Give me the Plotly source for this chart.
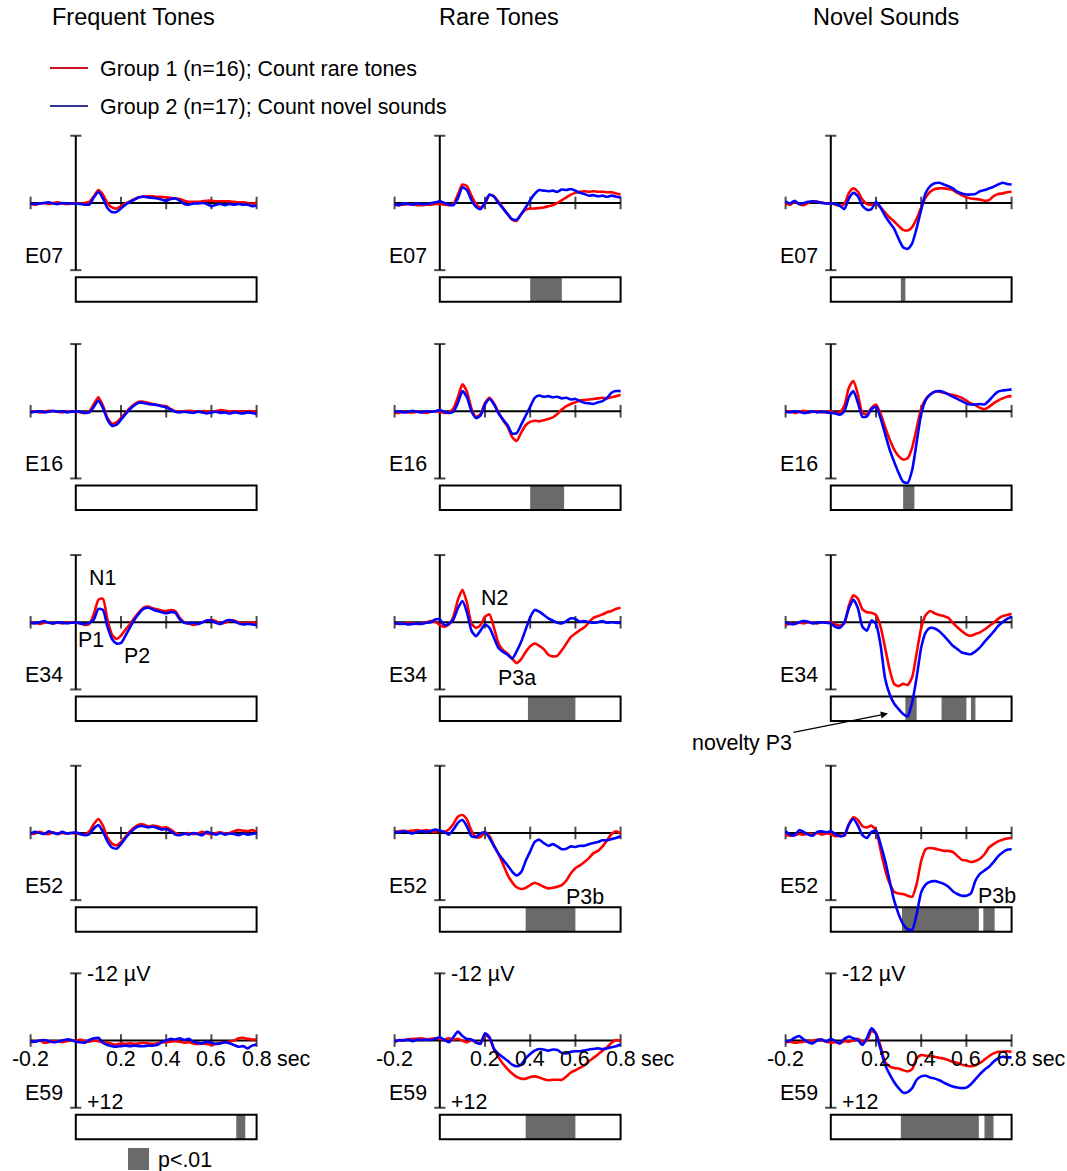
import plotly.graph_objects as go

W, H = 1067, 1171
FONT = "Liberation Sans, Arial, Helvetica, sans-serif"

# ---------------- data ----------------
time_s = [round(-0.2 + 0.02 * i, 2) for i in range(51)]   # sample grid (s)
conditions = ["Frequent Tones", "Rare Tones", "Novel Sounds"]
electrodes = ["E07", "E16", "E34", "E52", "E59"]
x_ticks = [-0.2, 0.2, 0.4, 0.6, 0.8]
x_tick_labels = ["-0.2", "0.2", "0.4", "0.6", "0.8"]
y_limits = [-12, 12]
group_names = ["Group 1 (n=16); Count rare tones", "Group 2 (n=17); Count novel sounds"]

# amplitudes in microvolts (negative up), Group 1 = g1, Group 2 = g2
freq_E07_g1 = [0.2, 0.3, 0.1, 0.0, 0.2, 0.0, -0.1, 0.1, 0.2, 0.1,
               0.0, 0.1, 0.0, -0.2, -1.2, -2.3, -1.5, 0.0, 0.8, 1.0,
               0.6, 0.1, -0.3, -0.7, -1.0, -1.2, -1.2, -1.2, -1.1, -1.1,
               -1.0, -0.9, -0.8, -0.7, -0.4, -0.2, -0.2, -0.2, -0.3, -0.4,
               -0.4, -0.3, -0.3, -0.3, -0.3, -0.2, -0.1, -0.1, 0.0, 0.2, -0.1]
freq_E07_g2 = [0.1, 0.2, 0.1, 0.0, -0.1, 0.1, 0.2, 0.0, 0.1, 0.1,
               0.1, 0.2, 0.3, 0.3, -1.0, -2.0, -0.8, 0.9, 1.6, 1.6,
               1.0, 0.3, -0.2, -0.6, -1.0, -1.1, -1.0, -0.9, -0.8, -0.6,
               -0.4, -0.7, -0.8, -0.4, 0.2, 0.3, 0.1, 0.1, 0.0, 0.2,
               0.6, 0.3, 0.2, 0.4, 0.2, 0.3, 0.2, 0.3, 0.3, 0.6, 0.4]
freq_E16_g1 = [0.1, 0.0, 0.2, 0.1, -0.1, 0.0, 0.1, 0.2, 0.0, 0.1,
               0.0, 0.2, 0.3, 0.0, -1.3, -2.5, -1.0, 1.2, 2.2, 2.0,
               1.2, 0.3, -0.6, -1.3, -1.7, -1.7, -1.5, -1.3, -1.1, -1.0,
               -0.9, -0.4, 0.0, 0.1, 0.0, -0.1, 0.0, 0.1, 0.0, 0.0,
               0.1, 0.0, -0.2, -0.1, 0.0, 0.1, 0.0, 0.1, 0.0, 0.0, 0.1]
freq_E16_g2 = [0.2, 0.1, 0.0, 0.2, 0.1, -0.1, 0.1, 0.0, 0.2, 0.1,
               0.0, 0.1, 0.3, 0.2, -0.8, -1.9, -0.6, 1.5, 2.6, 2.4,
               1.5, 0.5, -0.4, -1.1, -1.5, -1.5, -1.3, -1.2, -1.1, -0.9,
               -0.7, -0.3, 0.1, 0.2, 0.1, 0.2, 0.3, 0.1, 0.2, 0.4,
               0.2, 0.1, 0.3, 0.2, 0.4, 0.2, 0.3, 0.4, 0.2, 0.3, 0.5]
freq_E34_g1 = [0.2, 0.1, 0.3, 0.1, 0.0, 0.2, 0.1, 0.2, 0.0, 0.1,
               0.1, 0.2, 0.5, 0.3, -1.5, -4.0, -4.2, -0.5, 2.2, 3.0,
               2.4, 1.3, 0.3, -0.8, -1.8, -2.6, -2.8, -2.5, -2.3, -2.1,
               -2.0, -2.2, -2.0, -0.8, 0.0, 0.2, 0.5, 0.3, 0.0, -0.3,
               -0.4, -0.2, 0.2, 0.1, -0.3, -0.3, 0.0, 0.2, 0.1, 0.0, 0.3]
freq_E34_g2 = [0.1, 0.2, 0.0, -0.2, 0.1, 0.2, 0.0, 0.1, 0.2, 0.1,
               0.0, 0.2, 0.3, 0.1, -0.5, -2.4, -2.2, 0.8, 3.0, 3.8,
               3.7, 2.4, 0.9, -0.5, -1.6, -2.4, -2.6, -2.3, -2.0, -1.8,
               -1.6, -1.8, -1.7, -0.5, 0.1, 0.2, 0.1, 0.3, 0.0, -0.3,
               -0.3, 0.1, 0.3, -0.2, -0.4, -0.2, 0.2, 0.4, 0.3, 0.4, 0.5]
freq_E52_g1 = [0.2, 0.1, -0.2, 0.1, 0.2, -0.1, 0.2, 0.0, 0.1, 0.0,
               0.1, 0.2, 0.3, -0.3, -1.6, -2.5, -1.3, 0.8, 1.9, 2.2,
               1.6, 0.7, -0.3, -1.0, -1.5, -1.5, -1.2, -1.3, -1.2, -0.9,
               -1.0, -0.6, 0.0, 0.3, 0.2, 0.0, 0.2, 0.1, -0.2, 0.1,
               0.2, 0.0, -0.1, 0.1, 0.0, -0.3, -0.5, -0.4, -0.3, -0.5, -0.2]
freq_E52_g2 = [0.1, -0.2, 0.0, 0.2, -0.3, 0.0, 0.2, -0.2, 0.1, 0.0,
               -0.1, 0.2, 0.4, 0.2, -0.8, -1.4, -0.2, 1.5, 2.6, 2.8,
               2.0, 0.9, 0.0, -0.8, -1.2, -1.2, -1.0, -1.1, -0.9, -0.6,
               -0.7, -0.3, 0.3, 0.4, 0.1, 0.3, 0.0, 0.2, 0.4, -0.2,
               0.1, 0.3, 0.0, 0.3, 0.1, 0.2, 0.4, 0.1, 0.3, 0.2, 0.0]
freq_E59_g1 = [0.3, 0.2, 0.0, 0.4, 0.3, 0.1, 0.2, 0.3, 0.1, 0.0,
               0.1, -0.2, 0.1, 0.2, 0.0, 0.1, 0.3, 0.4, 0.6, 0.7,
               0.5, 0.6, 0.5, 0.6, 0.5, 0.4, 0.5, 0.6, 0.5, 0.3,
               0.3, 0.2, 0.1, 0.2, 0.4, 0.3, 0.5, 0.6, 0.5, 0.6,
               0.8, 0.6, 0.4, 0.3, 0.2, 0.0, -0.4, -0.5, -0.3, -0.2, -0.2]
freq_E59_g2 = [0.1, 0.2, 0.0, -0.1, 0.1, 0.3, 0.2, 0.0, -0.2, -0.1,
               0.2, 0.3, 0.4, -0.1, -0.4, -0.5, 0.4, 0.8, 1.0, 1.1,
               1.0, 0.9, 1.0, 0.9, 1.0, 1.0, 0.9, 0.9, 0.8, 0.3,
               0.0, -0.3, -0.2, -0.4, -0.1, -0.3, 0.2, 0.4, 0.5, 0.2,
               0.4, 0.6, 0.5, 0.3, 0.5, 0.8, 1.1, 1.0, 1.4, 0.9, 0.7]

rare_E07_g1 = [0.3, 0.4, 0.3, 0.2, 0.3, 0.4, 0.4, 0.3, 0.3, 0.2,
               0.2, 0.3, 0.4, 0.2, -1.5, -3.3, -3.0, -1.3, 0.2, 0.8,
               0.0, -1.4, -1.2, -0.2, 0.9, 2.0, 3.0, 3.2, 2.0, 1.2,
               1.0, 1.0, 0.9, 0.8, 0.6, 0.4, 0.0, -0.5, -1.0, -1.5,
               -1.8, -2.0, -2.1, -2.0, -2.1, -2.0, -2.0, -1.9, -1.9, -1.7, -1.5]
rare_E07_g2 = [0.2, 0.4, 0.1, 0.2, 0.3, 0.1, 0.2, 0.2, 0.0, -0.1,
               -0.3, 0.0, 0.3, 0.4, -0.8, -2.8, -2.3, -0.5, 0.7, 1.1,
               0.0, -1.5, -1.1, 0.0, 1.0, 2.0, 2.9, 3.0, 2.0, 0.8,
               -0.5, -1.6, -2.3, -2.2, -2.1, -2.2, -2.0, -2.4, -2.3, -2.5,
               -2.2, -1.8, -1.6, -1.3, -1.4, -1.2, -1.3, -1.1, -1.3, -1.1, -1.0]
rare_E16_g1 = [0.2, 0.3, 0.1, 0.2, 0.2, 0.1, 0.2, 0.3, 0.1, 0.0,
               0.1, 0.3, 0.2, -0.5, -2.5, -4.8, -3.5, -0.5, 1.0, 0.5,
               -1.5, -2.4, -1.4, 0.2, 1.6, 2.8, 4.6, 5.3, 3.8, 2.5,
               1.9, 1.7, 1.8, 1.6, 1.4, 1.1, 0.5, -0.3, -0.9, -1.3,
               -1.6, -1.9, -2.0, -2.1, -2.2, -2.3, -2.4, -2.3, -2.5, -2.7, -2.9]
rare_E16_g2 = [0.2, 0.0, 0.2, 0.1, -0.1, 0.1, 0.2, 0.0, 0.1, 0.0,
               -0.2, 0.1, 0.3, 0.1, -1.5, -3.6, -2.5, 0.0, 1.2, 0.8,
               -1.2, -2.2, -1.2, 0.4, 1.5, 2.5, 4.0, 3.9, 2.4, 0.8,
               -0.8, -2.4, -2.8, -2.6, -2.7, -2.5, -2.6, -2.3, -2.4, -2.1,
               -2.2, -1.8, -1.5, -1.4, -1.3, -1.6, -1.8, -2.4, -3.3, -3.6, -3.6]
rare_E34_g1 = [0.3, 0.2, 0.3, 0.1, 0.2, 0.3, 0.2, 0.0, -0.2, -0.1,
               0.5, 0.8, 0.4, -1.0, -4.0, -5.8, -3.5, 0.2, 1.0, 0.5,
               -1.0, -1.4, 1.0, 3.8, 5.0, 5.6, 6.5, 7.3, 6.6, 5.3,
               4.3, 3.8, 4.2, 4.8, 5.8, 6.1, 6.0, 5.0, 3.8, 2.6,
               2.0, 1.4, 0.9, 0.0, -0.8, -1.1, -1.4, -1.8, -2.0, -2.4, -2.6]
rare_E34_g2 = [0.1, 0.3, 0.2, 0.4, 0.3, 0.2, 0.3, 0.1, 0.0, -0.5,
               -0.5, 0.5, 0.3, -0.5, -2.5, -3.8, -1.8, 1.5, 2.5, 1.5,
               0.4, 1.0, 2.8, 4.6, 5.3, 5.8, 6.5, 5.2, 3.5, 1.3,
               -0.9, -2.2, -1.9, -1.3, -0.7, -0.3, 0.1, 0.2, -0.2, -0.7,
               -0.6, -0.1, -0.2, 0.0, 0.1, 0.0, -0.2, 0.1, 0.0, 0.1, 0.1]
rare_E52_g1 = [-0.2, -0.3, -0.4, -0.3, -0.4, -0.5, -0.4, -0.5, -0.3, -0.2,
               -0.4, -0.2, -0.6, -1.6, -2.9, -3.2, -2.4, -0.4, 0.8, 0.7,
               -0.1, 0.6, 2.2, 3.8, 5.6, 7.5, 8.8, 9.7, 10.0, 9.8,
               9.3, 8.9, 9.2, 9.6, 9.9, 9.8, 9.6, 9.3, 8.5, 7.2,
               6.3, 5.8, 5.2, 4.5, 3.6, 3.2, 2.4, 1.3, 0.2, -0.3, 0.1]
rare_E52_g2 = [-0.2, -0.1, -0.3, -0.1, 0.1, -0.2, -0.3, -0.2, -0.4, -0.6,
               -0.4, -0.2, 0.3, -0.6, -1.8, -2.3, -1.2, 0.6, 0.7, 0.1,
               -0.1, 0.9, 2.4, 3.7, 4.8, 5.8, 6.9, 7.6, 7.0, 5.0,
               3.3, 1.6, 1.2, 1.8, 2.3, 2.0, 2.4, 2.9, 2.8, 2.4,
               2.5, 2.3, 2.3, 2.0, 1.8, 1.6, 1.3, 1.3, 1.1, 0.9, 0.6]
rare_E59_g1 = [0.2, 0.0, -0.1, -0.2, -0.3, -0.3, -0.4, -0.2, -0.3, -0.4,
               -0.3, -0.2, -0.4, -0.2, -0.3, 0.0, 0.3, -0.1, 0.4, 0.4,
               -1.0, -0.4, 1.6, 3.0, 4.2, 5.1, 5.9, 6.5, 6.8, 6.8,
               6.5, 6.4, 6.6, 6.9, 7.1, 7.0, 7.0, 7.0, 6.4, 5.7,
               5.3, 4.9, 4.4, 3.7, 3.1, 2.5, 1.8, 1.2, 0.4, -0.1, 0.1]
rare_E59_g2 = [0.2, -0.1, 0.0, -0.2, 0.1, -0.2, -0.1, -0.2, -0.1, -0.3,
               -0.6, -0.1, 0.3, -0.6, -1.6, -0.8, -0.3, -0.2, 0.3, 0.6,
               -1.3, -0.6, 1.5, 2.4, 3.0, 3.6, 4.3, 4.6, 4.3, 3.2,
               2.4, 1.8, 1.5, 1.6, 1.8, 1.6, 1.7, 2.2, 2.3, 2.0,
               1.9, 1.9, 1.8, 1.6, 1.5, 1.4, 1.5, 1.4, 1.2, 1.0, 0.7]

novel_E07_g1 = [0.1, 0.3, -0.2, 0.2, 0.4, 0.0, -0.3, -0.2, -0.1, 0.1,
                0.0, 0.3, 0.5, 0.2, -1.8, -2.6, -2.0, -0.6, 0.2, 0.3,
                0.1, 0.8, 1.7, 2.6, 3.3, 4.1, 4.8, 4.9, 4.3, 2.8,
                0.8, -1.0, -2.0, -2.5, -2.6, -2.6, -2.5, -2.3, -1.8, -1.4,
                -1.0, -0.8, -0.7, -0.6, -0.4, -0.5, -1.2, -1.6, -1.7, -1.9, -2.0]
novel_E07_g2 = [-0.3, 0.1, -0.4, 0.2, 0.0, -0.2, -0.3, -0.2, 0.0, 0.1,
                0.1, 0.2, 0.5, 1.1, -0.8, -1.8, -1.2, 0.5, 1.2, 1.1,
                -0.2, 0.8, 2.3, 3.5, 4.6, 6.4, 7.9, 8.2, 7.2, 4.5,
                1.2, -1.8, -3.0, -3.5, -3.6, -3.3, -3.0, -2.6, -2.0, -1.7,
                -1.5, -1.5, -1.6, -2.1, -2.3, -2.6, -2.9, -3.3, -3.6, -3.4, -3.3]
novel_E16_g1 = [0.2, 0.0, 0.3, 0.1, -0.1, 0.2, 0.1, 0.0, 0.2, 0.1,
                0.0, 0.3, 0.2, -1.0, -4.2, -5.4, -3.0, 0.3, 0.5, -0.6,
                -1.2, 0.4, 2.8, 5.0, 6.8, 8.0, 8.6, 8.4, 6.5, 3.0,
                -0.5, -2.2, -3.0, -3.5, -3.5, -3.3, -3.1, -2.9, -2.7, -2.4,
                -1.9, -1.4, -1.1, -0.6, -0.4, -0.8, -1.4, -1.9, -2.3, -2.6, -2.7]
novel_E16_g2 = [0.1, 0.2, 0.0, 0.1, 0.3, 0.2, 0.0, 0.2, 0.1, 0.2,
                0.3, 0.4, 0.6, 0.0, -2.5, -3.6, -1.5, 1.0, 0.9, -0.4,
                -0.8, 1.2, 4.0, 6.8, 9.0, 11.0, 12.6, 12.8, 10.5, 5.5,
                0.5, -2.0, -3.0, -3.5, -3.6, -3.4, -3.0, -2.6, -2.2, -1.8,
                -1.4, -1.2, -1.2, -1.3, -1.2, -1.9, -2.8, -3.5, -3.7, -3.8, -3.9]
novel_E34_g1 = [0.5, 0.2, 0.3, 0.1, 0.2, 0.0, 0.1, 0.2, 0.0, 0.1,
                0.0, 0.4, 0.6, 0.2, -3.0, -4.8, -4.2, -2.3, -1.8, -1.7,
                -1.3, 0.8, 4.5, 8.4, 11.0, 11.4, 11.0, 11.2, 9.8, 5.5,
                1.0, -1.3, -2.0, -1.6, -1.3, -1.1, -0.8, 0.1, 0.9, 1.6,
                2.2, 2.4, 2.1, 1.8, 1.3, 0.7, 0.1, -0.6, -1.1, -1.3, -1.5]
novel_E34_g2 = [0.0, 0.3, 0.3, 0.0, -0.2, -0.1, 0.2, 0.1, 0.0, 0.1,
                0.2, 0.8, 1.0, 0.0, -2.5, -4.0, -2.5, 0.8, 1.5, -0.3,
                0.3, 4.0, 10.0, 12.8, 14.5, 15.5, 16.4, 16.8, 14.3, 9.8,
                4.5, 1.8, 1.0, 1.1, 1.6, 2.4, 3.3, 4.2, 4.8, 5.4,
                5.6, 5.7, 5.2, 4.5, 3.5, 2.6, 1.7, 0.7, 0.0, -0.6, -1.0]
novel_E52_g1 = [0.3, 0.5, 0.4, 0.2, 0.3, 0.1, 0.3, 0.0, 0.3, 0.1,
                0.2, 0.6, 0.4, 0.5, -1.6, -2.8, -2.3, -1.2, -1.0, -1.3,
                -0.5, 3.0, 6.5, 9.0, 10.5, 10.8, 10.9, 11.2, 11.4, 9.1,
                5.0, 2.9, 2.7, 2.8, 3.0, 3.2, 3.2, 3.4, 4.1, 4.8,
                4.9, 5.2, 5.0, 4.6, 3.8, 2.6, 2.0, 1.5, 1.2, 1.0, 0.9]
novel_E52_g2 = [-0.3, 0.3, 0.4, -0.5, -0.2, 0.3, 0.5, -0.2, -0.3, -0.1,
                -0.3, 0.2, 0.6, 0.4, -1.5, -2.5, -1.3, 0.4, 0.9, -0.2,
                -0.4, 2.0, 4.9, 8.5, 12.0, 14.5, 16.3, 17.2, 17.3, 14.5,
                10.6, 9.2, 8.7, 8.6, 8.8, 9.1, 9.6, 10.4, 10.9, 11.2,
                11.2, 10.8, 8.5, 7.3, 6.7, 6.1, 5.2, 4.2, 3.5, 3.0, 2.9]
novel_E59_g1 = [0.3, 0.2, 0.4, 0.3, 0.2, 0.0, 0.1, -0.2, 0.0, 0.2,
                0.4, 0.3, 0.5, 0.1, 0.2, 0.0, -0.3, 0.2, 0.0, -1.7,
                -1.3, 1.0, 3.8, 4.6, 4.9, 5.0, 5.3, 5.5, 5.1, 3.2,
                2.6, 2.7, 2.8, 2.9, 3.1, 3.2, 3.5, 3.8, 4.0, 4.3,
                4.5, 4.6, 4.4, 4.0, 3.4, 2.8, 2.3, 2.0, 2.0, 1.9, 2.0]
novel_E59_g2 = [0.2, 0.0, -0.5, -0.8, -0.2, 0.3, 0.5, 0.0, -0.2, 0.2,
                -0.3, 0.1, 0.5, -0.3, -0.7, -0.4, -0.1, 0.8, -0.5, -2.2,
                -1.2, 1.5, 4.3, 6.0, 7.4, 8.5, 9.3, 9.2, 8.5, 7.0,
                6.4, 6.3, 6.6, 6.8, 7.1, 7.5, 7.9, 8.2, 8.4, 8.5,
                8.4, 7.8, 6.9, 6.0, 5.2, 4.6, 3.8, 3.2, 2.9, 3.0, 3.0]

# significant (p<.01) intervals in seconds, per electrode row
sig_frequent = [[], [], [], [], [(0.71, 0.75)]]
sig_rare = [[(0.40, 0.54)], [(0.40, 0.55)], [(0.39, 0.60)], [(0.38, 0.60)], [(0.38, 0.60)]]
sig_novel = [[(0.31, 0.33)], [(0.32, 0.37)],
             [(0.33, 0.38), (0.49, 0.60), (0.62, 0.64)],
             [(0.315, 0.655), (0.675, 0.725)],
             [(0.31, 0.655), (0.68, 0.72)]]

waves = {
    "Frequent Tones": [(freq_E07_g1, freq_E07_g2), (freq_E16_g1, freq_E16_g2), (freq_E34_g1, freq_E34_g2),
                       (freq_E52_g1, freq_E52_g2), (freq_E59_g1, freq_E59_g2)],
    "Rare Tones": [(rare_E07_g1, rare_E07_g2), (rare_E16_g1, rare_E16_g2), (rare_E34_g1, rare_E34_g2),
                   (rare_E52_g1, rare_E52_g2), (rare_E59_g1, rare_E59_g2)],
    "Novel Sounds": [(novel_E07_g1, novel_E07_g2), (novel_E16_g1, novel_E16_g2), (novel_E34_g1, novel_E34_g2),
                     (novel_E52_g1, novel_E52_g2), (novel_E59_g1, novel_E59_g2)],
}
sigs = {"Frequent Tones": sig_frequent, "Rare Tones": sig_rare, "Novel Sounds": sig_novel}

# ---------------- layout geometry (pixels) ----------------
COL_ZERO_PX = [75.8, 439.8, 830.8]
PX_PER_SEC = 226.0
ROW_TOP_PX = [135.7, 344.0, 555.0, 765.7, 973.3]
PX_PER_UV = 5.6
ZERO_OFF = 67.25
BAR_TOP_OFF, BAR_BOT_OFF = 141.5, 166.0
X_LO, X_HI = -0.23, 0.83
RED, BLUE = "#ff0000", "#0000ff"
GRAY = "#6a6a6a"
TXT = 21.4


def uv_at(py, top):
    return (py - top - ZERO_OFF) / PX_PER_UV


fig = go.Figure()
layout_axes = {}
shapes = []
annotations = []

for c, cond in enumerate(conditions):
    z = COL_ZERO_PX[c]
    for r, el in enumerate(electrodes):
        top = ROW_TOP_PX[r]
        k = r * 3 + c + 1
        xn = "x" if k == 1 else f"x{k}"
        yn = "y" if k == 1 else f"y{k}"
        xkey = "xaxis" if k == 1 else f"xaxis{k}"
        ykey = "yaxis" if k == 1 else f"yaxis{k}"
        layout_axes[xkey] = dict(domain=[(z + X_LO * PX_PER_SEC) / W, (z + X_HI * PX_PER_SEC) / W],
                                 range=[X_LO, X_HI], visible=False, anchor=yn, fixedrange=True)
        layout_axes[ykey] = dict(domain=[1 - (top + 172) / H, 1 - (top - 8) / H],
                                 range=[uv_at(top + 172, top), uv_at(top - 8, top)],
                                 visible=False, anchor=xn, fixedrange=True)

        # axes drawn at zero
        fig.add_trace(go.Scatter(x=[0, 0, None, x_ticks[0], x_ticks[-1]],
                                 y=[y_limits[0], y_limits[1], None, 0, 0],
                                 mode="lines", line=dict(color="black", width=2),
                                 xaxis=xn, yaxis=yn, hoverinfo="skip", showlegend=False))
        fig.add_trace(go.Scatter(x=[0, 0] + x_ticks, y=y_limits + [0] * len(x_ticks),
                                 mode="markers", cliponaxis=False,
                                 marker=dict(symbol=["line-ew"] * 2 + ["line-ns"] * len(x_ticks),
                                             size=[8, 8] + [9] * len(x_ticks), color="black",
                                             line=dict(color="black", width=2)),
                                 xaxis=xn, yaxis=yn, hoverinfo="skip", showlegend=False))
        g1, g2 = waves[cond][r]
        for vals, col, name in ((g1, RED, group_names[0]), (g2, BLUE, group_names[1])):
            fig.add_trace(go.Scatter(x=time_s, y=vals, mode="lines", name=name,
                                     line=dict(color=col, width=2.6, shape="spline", smoothing=0.6),
                                     xaxis=xn, yaxis=yn, showlegend=False))

        # significance bar
        by0, by1 = uv_at(top + BAR_BOT_OFF, top), uv_at(top + BAR_TOP_OFF, top)
        shapes.append(dict(type="rect", xref=xn, yref=yn, x0=0, x1=x_ticks[-1], y0=by0, y1=by1,
                           fillcolor="white", line=dict(width=0), layer="below"))
        for (s0, s1) in sigs[cond][r]:
            shapes.append(dict(type="rect", xref=xn, yref=yn, x0=s0, x1=s1, y0=by0, y1=by1,
                               fillcolor=GRAY, line=dict(width=0), layer="below"))
        shapes.append(dict(type="rect", xref=xn, yref=yn, x0=0, x1=x_ticks[-1], y0=by0, y1=by1,
                           fillcolor="rgba(0,0,0,0)", line=dict(color="black", width=2), layer="below"))

        # electrode label
        annotations.append(dict(text=el, xref="paper", yref="paper", x=(z - 53) / W,
                                y=1 - (top + 120) / H, xanchor="left", yanchor="middle",
                                showarrow=False, font=dict(size=TXT)))

        if r == len(electrodes) - 1:
            annotations.append(dict(text="-12 µV", xref=xn, yref=yn, x=0, y=y_limits[0], xshift=9,
                                    yshift=-1, xanchor="left", yanchor="middle", showarrow=False,
                                    font=dict(size=TXT)))
            annotations.append(dict(text="+12", xref=xn, yref=yn, x=0, y=y_limits[1], xshift=9,
                                    yshift=6, xanchor="left", yanchor="middle", showarrow=False,
                                    font=dict(size=TXT)))
            for tv, tl in zip(x_ticks, x_tick_labels):
                annotations.append(dict(text=tl, xref=xn, yref=yn, x=tv, y=0, yshift=-18,
                                        xanchor="center", yanchor="middle", showarrow=False,
                                        font=dict(size=TXT)))
            annotations.append(dict(text="sec", xref=xn, yref=yn, x=x_ticks[-1], y=0, xshift=18,
                                    yshift=-18, xanchor="left", yanchor="middle", showarrow=False,
                                    font=dict(size=TXT)))

# column titles
for cx, cond in zip([133.5, 499.0, 885.5], conditions):
    annotations.append(dict(text=cond, xref="paper", yref="paper", x=cx / W, y=1 - 17 / H,
                            xanchor="center", yanchor="middle", showarrow=False, font=dict(size=23.5)))

# legend
for ly, col, name in ((68, "#cc1122", group_names[0]), (106, "#33339a", group_names[1])):
    shapes.append(dict(type="line", xref="paper", yref="paper", x0=50 / W, x1=88 / W,
                       y0=1 - ly / H, y1=1 - ly / H, line=dict(color=col, width=2)))
    annotations.append(dict(text=name, xref="paper", yref="paper", x=98 / W, y=1 - (ly + 1) / H,
                            xanchor="left", yanchor="middle", showarrow=False, font=dict(size=TXT)))

# component labels
comp = [("N1", 7, 0.116, -7.9), ("P1", 7, 0.067, 3.2), ("P2", 7, 0.271, 6.1),
        ("N2", 8, 0.244, -4.3), ("P3a", 8, 0.342, 10.0),
        ("P3b", 11, 0.642, 11.4), ("P3b", 12, 0.735, 11.2)]
for txt, k, tx, ty in comp:
    annotations.append(dict(text=txt, xref=f"x{k}", yref=f"y{k}", x=tx, y=ty, xanchor="center",
                            yanchor="middle", showarrow=False, font=dict(size=TXT)))
annotations.append(dict(text="novelty P3", xref="x9", yref="y9", x=0.253, y=16.3,
                        ax=-146, ay=29, showarrow=True, arrowhead=2, arrowsize=1.2,
                        arrowwidth=1.2, arrowcolor="black", font=dict(size=TXT)))

# p<.01 key
shapes.append(dict(type="rect", xref="paper", yref="paper", x0=128 / W, x1=149 / W,
                   y0=1 - 1170 / H, y1=1 - 1148 / H, fillcolor=GRAY, line=dict(width=0)))
annotations.append(dict(text="p<.01", xref="paper", yref="paper", x=156 / W, y=1 - 1160 / H,
                        xanchor="left", yanchor="middle", showarrow=False, font=dict(size=TXT)))

fig.update_layout(width=W, height=H, margin=dict(l=0, r=0, t=0, b=0),
                  paper_bgcolor="white", plot_bgcolor="rgba(0,0,0,0)",
                  font=dict(family=FONT, color="black", size=TXT),
                  showlegend=False, hovermode=False,
                  shapes=shapes, annotations=annotations, **layout_axes)

fig.write_html("out.html")
